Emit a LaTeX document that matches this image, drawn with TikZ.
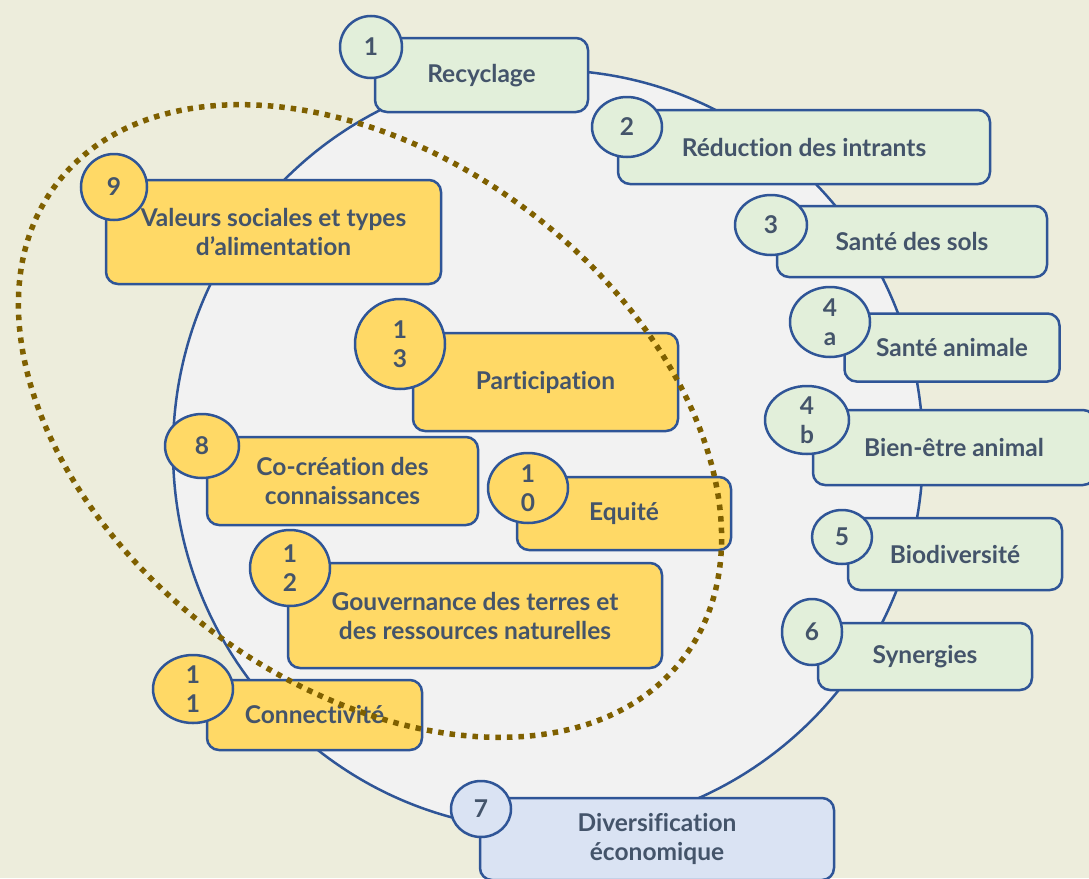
\documentclass[tikz,border=0pt]{standalone}
\usepackage{fontspec}
\setmainfont{Lato}[Ligatures=NoCommon]
\usetikzlibrary{shapes.geometric}

\definecolor{bgbeige}{RGB}{237,237,220}
\definecolor{ringgray}{RGB}{242,242,242}
\definecolor{edgeblue}{RGB}{47,85,151}
\definecolor{leafgreen}{RGB}{226,239,218}
\definecolor{sunyellow}{RGB}{255,217,102}
\definecolor{paleblue}{RGB}{218,227,243}
\definecolor{olivebrown}{RGB}{127,96,0}
\definecolor{slatetext}{RGB}{68,84,106}

\tikzset{
  label font/.style={font=\bfseries\fontsize{24.5}{29}\selectfont, text=slatetext},
  pbox/.style={draw=edgeblue, line width=2.5pt, rounded corners=12pt, inner sep=0pt,
    align=center, label font},
  pnum/.style={ellipse, draw=edgeblue, line width=2.5pt, inner sep=0pt,
    align=center, label font},
}

\begin{document}
\begin{tikzpicture}[x=1pt, y=-1pt]
  \useasboundingbox (0,0) rectangle (1089,878);
  \fill[bgbeige] (0,0) rectangle (1089,878);
  % the big ring
  \draw[fill=ringgray, draw=edgeblue, line width=2.5pt] (548,450) ellipse [x radius=375, y radius=380];

  % environmental principles
  \node[pbox, fill=leafgreen, minimum width=213pt, minimum height=74pt, text depth=3pt] (recyc) at (481.5,75) {Recyclage};
  \node[pnum, fill=leafgreen, minimum width=62pt, minimum height=62pt] (n1) at (371,47) {1};
  \node[pbox, fill=leafgreen, minimum width=372pt, minimum height=74pt] (reduc) at (804,147) {Réduction des intrants};
  \node[pnum, fill=leafgreen, minimum width=70pt, minimum height=60pt] (n2) at (627,127) {2};
  \node[pbox, fill=leafgreen, minimum width=270pt, minimum height=71pt] (sols) at (912,241.5) {Santé des sols};
  \node[pnum, fill=leafgreen, minimum width=72pt, minimum height=60pt] (n3) at (771,225) {3};
  \node[pbox, fill=leafgreen, minimum width=215pt, minimum height=68pt] (anim) at (952,347.5) {Santé animale};
  \node[pnum, fill=leafgreen, minimum width=80pt, minimum height=70pt] (n4a) at (830,322) {4\\a};
  \node[pbox, fill=leafgreen, minimum width=282pt, minimum height=75pt] (bien) at (954,447.5) {Bien-être animal};
  \node[pnum, fill=leafgreen, minimum width=84pt, minimum height=68pt] (n4b) at (807,420) {4\\b};
  \node[pbox, fill=leafgreen, minimum width=214pt, minimum height=72pt] (biodiv) at (955,554) {Biodiversité};
  \node[pnum, fill=leafgreen, minimum width=60pt, minimum height=54pt] (n5) at (842,537) {5};
  \node[pbox, fill=leafgreen, minimum width=214pt, minimum height=67pt] (syn) at (925,656.5) {Synergies};
  \node[pnum, fill=leafgreen, minimum width=60pt, minimum height=66pt] (n6) at (812,632) {6};

  % economic principle
  \node[pbox, fill=paleblue, minimum width=354pt, minimum height=82pt] (econ) at (657,839) {Diversification\\économique};
  \node[pnum, fill=paleblue, minimum width=60pt, minimum height=56pt] (n7) at (481,809) {7};

  % social principles
  \node[pbox, fill=sunyellow, minimum width=335pt, minimum height=104pt] (valeurs) at (273.5,232) {Valeurs sociales et types\\d’alimentation};
  \node[pnum, fill=sunyellow, minimum width=66pt, minimum height=66pt] (n9) at (114,187) {9};
  \node[pbox, fill=sunyellow, minimum width=265pt, minimum height=98pt] (partic) at (545.5,382) {Participation};
  \node[pnum, fill=sunyellow, minimum width=90pt, minimum height=90pt] (n13) at (400,344) {1\\3};
  \node[pbox, fill=sunyellow, minimum width=271pt, minimum height=88pt] (cocrea) at (342.5,481) {Co-création des\\connaissances};
  \node[pnum, fill=sunyellow, minimum width=74pt, minimum height=64pt] (n8) at (202,446) {8};
  \node[pbox, fill=sunyellow, minimum width=214pt, minimum height=73pt] (equite) at (624,513.5) {Equité};
  \node[pnum, fill=sunyellow, minimum width=80pt, minimum height=70pt] (n10) at (528,488) {1\\0};
  \node[pbox, fill=sunyellow, minimum width=374pt, minimum height=105pt] (gouv) at (475,615.5) {Gouvernance des terres et\\des ressources naturelles};
  \node[pnum, fill=sunyellow, minimum width=80pt, minimum height=76pt] (n12) at (290,568) {1\\2};
  \node[pbox, fill=sunyellow, minimum width=215pt, minimum height=70pt] (connect) at (314.5,715) {Connectivité};
  \node[pnum, fill=sunyellow, minimum width=80pt, minimum height=68pt] (n11) at (193,689) {1\\1};

  % dotted grouping
  \draw[olivebrown, line width=5.5pt, dash pattern=on 5.5pt off 6pt] (370,421) ellipse [x radius=393, y radius=263, rotate=-37];
\end{tikzpicture}
\end{document}
